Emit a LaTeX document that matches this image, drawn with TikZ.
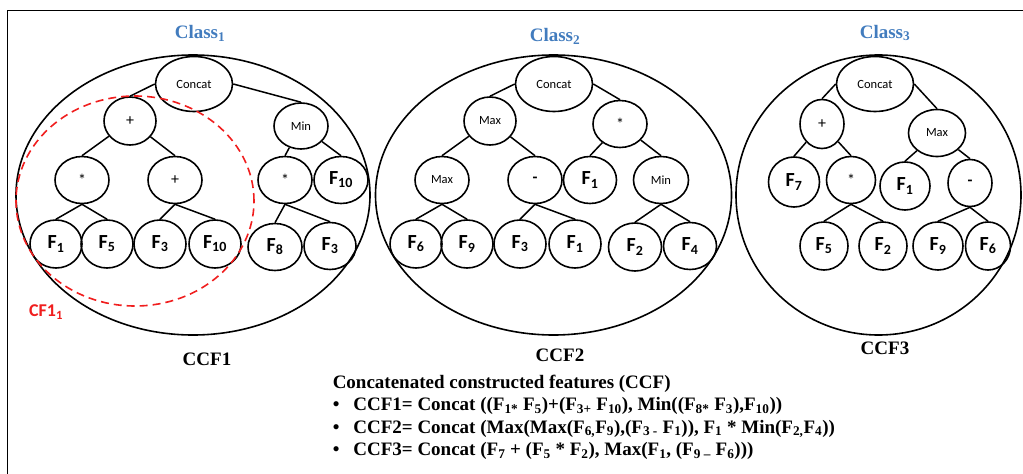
\documentclass[tikz,border=0pt]{standalone}
\usepackage{fontspec}
\setmainfont{Liberation Serif}
\newfontfamily\calfont{Carlito}
\usepackage{tikz}
\usetikzlibrary{shapes}
\definecolor{classblue}{RGB}{66,124,190}
\definecolor{cfred}{RGB}{240,30,30}

\begin{document}
\begin{tikzpicture}[x=1pt,y=-1pt,line width=1.5pt,
                    every node/.style={inner sep=0pt},
                    tree/.style={ellipse,draw,line width=1.6pt},
                    leaf/.style={tree,minimum width=52pt,minimum height=48pt,
                                 font=\calfont\bfseries\fontsize{20}{20}\selectfont},
                    op/.style={tree,minimum width=54pt,minimum height=47pt,
                               font=\calfont\fontsize{12.5}{12.5}\selectfont},
                    sym/.style={op,font=\calfont\fontsize{16}{16}\selectfont},
                    cat/.style={tree,minimum width=77pt,minimum height=55pt,
                                font=\calfont\fontsize{12.5}{12.5}\selectfont},
                    group/.style={ellipse,draw,line width=1.6pt},
                    cls/.style={font=\bfseries\fontsize{19}{19}\selectfont,text=classblue},
                    ccf/.style={font=\bfseries\fontsize{19}{19}\selectfont}]

  \useasboundingbox (0,0) rectangle (1023,474);
  \draw[line width=1pt] (7,474) -- (7,10) -- (1023,10);

  % class 1
  \node[group,minimum width=354pt,minimum height=280pt] (big1) at (193,195) {};
  \node[cls] (cls1) at (200,33) {Class\textsubscript{1}};
  \node[ccf] (ccf1) at (207,359) {CCF1};

  \node[cat] (c1) at (194,84) {Concat};
  \node[sym,minimum width=52pt,minimum height=48pt] (p1) at (130,121) {+};
  \node[op,minimum height=46pt] (m1) at (301,126) {Min};
  \node[sym] (s1) at (82,180) {*};
  \node[sym] (p2) at (175,180) {+};
  \node[sym] (s2) at (285,180) {*};
  \node[leaf,minimum width=54pt,minimum height=47pt] (f10a) at (341,180) {F\textsubscript{10}};
  \node[leaf] (f1a) at (56,244) {F\textsubscript{1}};
  \node[leaf] (f5a) at (107,244) {F\textsubscript{5}};
  \node[leaf] (f3a) at (160,244) {F\textsubscript{3}};
  \node[leaf] (f10b) at (215,244) {F\textsubscript{10}};
  \node[leaf,minimum width=54pt,minimum height=47pt] (f8a) at (275,247) {F\textsubscript{8}};
  \node[leaf,minimum height=47pt] (f3b) at (330,246) {F\textsubscript{3}};

  \path (c1.west) edge (p1.north)
        (c1.east) edge (m1.north)
        (p1) edge (s1.north)
             edge (p2.north)
        (m1) edge (s2.north)
             edge (f10a.north)
        (s1.south) edge (f1a.north)
                   edge (f5a.north)
        (p2.south) edge (f3a.north)
                   edge (f10b.north)
        (s2.south) edge (f8a.north)
                   edge (f3b.north);

  \node[ellipse,draw=cfred,dash pattern=on 8pt off 5pt,line width=1.6pt,
        minimum width=238pt,minimum height=210pt] (cf1) at (135,201) {};
  \node[text=cfred,font=\calfont\bfseries\fontsize{18}{18}\selectfont] (cflab) at (46,312) {CF1\textsubscript{1}};

  % class 2
  \node[group,minimum width=356pt,minimum height=280pt] (big2) at (553.5,195) {};
  \node[cls] (cls2) at (555,36) {Class\textsubscript{2}};
  \node[ccf] (ccf2) at (560,355) {CCF2};

  \node[cat] (c2) at (554,84) {Concat};
  \node[op,minimum width=52pt,minimum height=48pt] (x1) at (490,121) {Max};
  \node[sym] (s3) at (620,124) {*};
  \node[op] (x2) at (442,180) {Max};
  \node[sym,font=\calfont\bfseries\fontsize{16}{16}\selectfont] (d1) at (535,180) {-};
  \node[leaf,minimum width=53pt,minimum height=47pt] (f1b) at (590,180) {F\textsubscript{1}};
  \node[op,minimum width=55pt] (n2) at (661,180) {Min};
  \node[leaf] (f6a) at (416,244) {F\textsubscript{6}};
  \node[leaf] (f9a) at (467,244) {F\textsubscript{9}};
  \node[leaf] (f3c) at (520,244) {F\textsubscript{3}};
  \node[leaf] (f1c) at (575,244) {F\textsubscript{1}};
  \node[leaf,minimum width=53pt] (f2a) at (635,247) {F\textsubscript{2}};
  \node[leaf,minimum width=53pt,minimum height=47pt] (f4a) at (690,246) {F\textsubscript{4}};

  \path (c2.west) edge (x1.north)
        (c2.east) edge (s3.north)
        (x1) edge (x2.north)
             edge (d1.north)
        (s3) edge (f1b.north)
             edge (n2.north)
        (x2.south) edge (f6a.north)
                   edge (f9a.north)
        (d1.south) edge (f3c.north)
                   edge (f1c.north)
        (n2.south) edge (f2a.north)
                   edge (f4a.north);

  % class 3
  \node[group,minimum width=285pt,minimum height=280pt] (big3) at (878.5,195) {};
  \node[cls] (cls3) at (885,33) {Class\textsubscript{3}};
  \node[ccf] (ccf3) at (885,348) {CCF3};

  \node[cat] (c3) at (875,84) {Concat};
  \node[sym,minimum width=44pt,minimum height=49pt] (p3) at (822,124) {+};
  \node[op,minimum width=57pt] (x3) at (937,133) {Max};
  \node[leaf,minimum width=51pt,minimum height=50pt] (f7a) at (794,182) {F\textsubscript{7}};
  \node[sym,minimum width=49pt] (s4) at (851,180) {*};
  \node[leaf,minimum width=50pt] (f1d) at (905,186) {F\textsubscript{1}};
  \node[sym,minimum width=44pt,font=\calfont\bfseries\fontsize{16}{16}\selectfont] (d2) at (970,183) {-};
  \node[leaf,minimum width=48pt] (f5b) at (824,246) {F\textsubscript{5}};
  \node[leaf,minimum width=48pt] (f2b) at (883,246) {F\textsubscript{2}};
  \node[leaf,minimum width=50pt] (f9b) at (938,246) {F\textsubscript{9}};
  \node[leaf,minimum width=45pt] (f6b) at (988,246) {F\textsubscript{6}};

  \path (c3.west) edge (p3.north)
        (c3.east) edge (x3.north)
        (p3) edge (f7a.north)
             edge (s4.north)
        (x3) edge (f1d.north)
             edge (d2.north)
        (s4.south) edge (f5b.north)
                   edge (f2b.north)
        (d2.south) edge (f9b.north)
                   edge (f6b.north);

  % formulas
  \node[anchor=base west,font=\bfseries\fontsize{19}{22.5}\selectfont] (ccflist) at (332,388) {%
    \begin{tabular}[t]{@{}l@{\hspace{14pt}}l@{}}
      \multicolumn{2}{@{}l@{}}{Concatenated constructed features (CCF)}\\
      \textbullet & CCF1= Concat ((F\textsubscript{1*} F\textsubscript{5})+(F\textsubscript{3+} F\textsubscript{10}), Min((F\textsubscript{8*} F\textsubscript{3}),F\textsubscript{10}))\\
      \textbullet & CCF2= Concat (Max(Max(F\textsubscript{6,}F\textsubscript{9}),(F\textsubscript{3 -} F\textsubscript{1})), F\textsubscript{1} * Min(F\textsubscript{2,}F\textsubscript{4}))\\
      \textbullet & CCF3= Concat (F\textsubscript{7} + (F\textsubscript{5} * F\textsubscript{2}), Max(F\textsubscript{1}, (F\textsubscript{9 --} F\textsubscript{6})))
    \end{tabular}};
\end{tikzpicture}
\end{document}
